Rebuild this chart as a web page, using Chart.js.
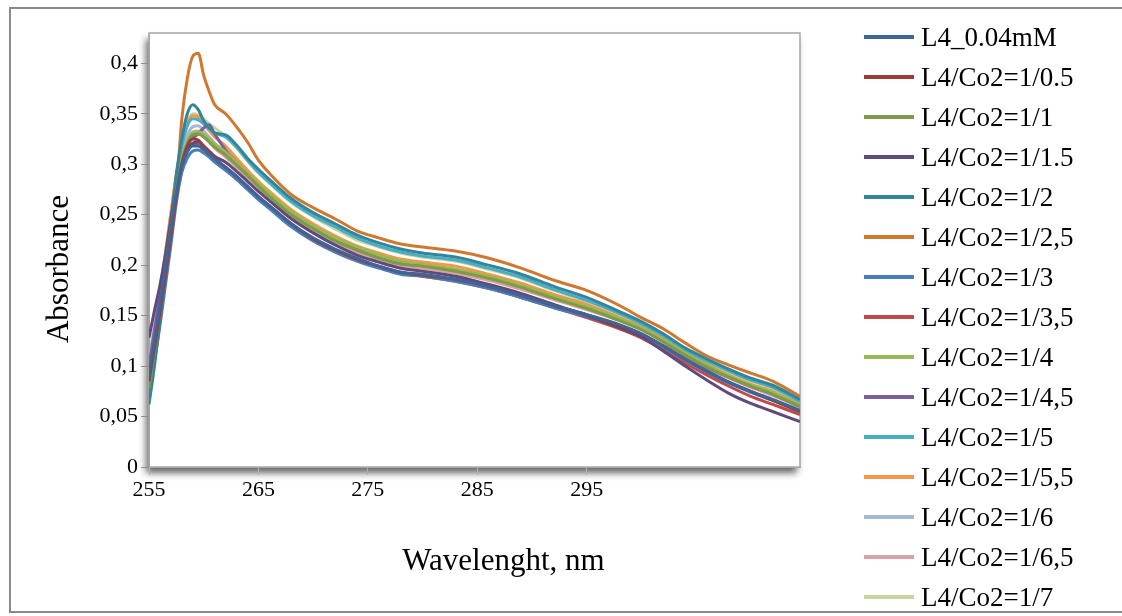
<!DOCTYPE html>
<html><head><meta charset="utf-8">
<script src="https://cdn.jsdelivr.net/npm/chart.js@4.4.1/dist/chart.umd.min.js"></script>
<style>
html,body{margin:0;padding:0;background:#fff;}
#wrap{position:relative;width:1122px;height:616px;overflow:hidden;}
#legend{position:absolute;left:864px;top:17px;font-family:"Liberation Serif","Times New Roman",serif;font-size:27px;color:#000;}
.li{height:40px;display:flex;align-items:center;white-space:nowrap;}
.sw{width:50px;height:4px;margin-right:7px;flex:none;}
</style></head><body>
<div id="wrap"><canvas id="c" width="1122" height="616"></canvas><div id="legend"></div></div>
<script>
const wavelengths = [255,255.5,256,256.5,257,257.5,258,258.5,259,259.5,260,260.5,261,262,263,264,265,266,268,270,272,274,276,278,280,283,286,289,292,295,298,300,302,304,306,308,310,312,314.5];

const seriesNames = ["L4_0.04mM","L4/Co2=1/0.5","L4/Co2=1/1","L4/Co2=1/1.5","L4/Co2=1/2","L4/Co2=1/2,5","L4/Co2=1/3","L4/Co2=1/3,5","L4/Co2=1/4","L4/Co2=1/4,5","L4/Co2=1/5","L4/Co2=1/5,5","L4/Co2=1/6","L4/Co2=1/6,5","L4/Co2=1/7"];
const seriesColors = ["#3F6497","#9E3B38","#7F9A48","#604A7B","#31869B","#D0782E","#4A7EBB","#BE4B48","#98B954","#7D5FA0","#4BACC6","#F79646","#A7B9D9","#D9A3A2","#C4D6A0"];

const sL4 = [0.090,0.125,0.160,0.198,0.236,0.272,0.298,0.312,0.318,0.318,0.315,0.310,0.305, 0.297,0.288,0.278,0.268,0.259, 0.241,0.227,0.216,0.207,0.199,0.193,0.191, 0.186,0.179,0.170,0.160,0.151,0.141, 0.132,0.120,0.107,0.095,0.084,0.075,0.067, 0.056];
const s0_5 = [0.085,0.118,0.152,0.190,0.228,0.268,0.300,0.318,0.325,0.324,0.318,0.312,0.306, 0.297,0.288,0.278,0.268,0.259, 0.241,0.226,0.215,0.206,0.199,0.193,0.190, 0.186,0.179,0.170,0.160,0.151,0.140, 0.132,0.120,0.107,0.095,0.084,0.075,0.066, 0.055];
const s1 = [0.078,0.115,0.155,0.195,0.236,0.275,0.302,0.320,0.329,0.330,0.327,0.322,0.317, 0.309,0.299,0.289,0.278,0.268, 0.250,0.236,0.224,0.215,0.207,0.201,0.199, 0.194,0.187,0.178,0.167,0.157,0.145, 0.136,0.124,0.111,0.099,0.089,0.080,0.072, 0.060];
const s1_5 = [0.128,0.155,0.180,0.210,0.245,0.276,0.298,0.314,0.321,0.322,0.318,0.313,0.308, 0.302,0.293,0.283,0.273,0.264, 0.246,0.232,0.220,0.210,0.203,0.197,0.194, 0.189,0.181,0.172,0.161,0.150,0.138, 0.129,0.115,0.100,0.086,0.073,0.063,0.055, 0.045];
const s2 = [0.062,0.100,0.145,0.190,0.240,0.290,0.325,0.350,0.359,0.354,0.343,0.336,0.331, 0.329,0.319,0.306,0.295,0.285, 0.266,0.252,0.241,0.230,0.222,0.216,0.212, 0.208,0.200,0.191,0.179,0.168,0.154, 0.144,0.132,0.118,0.107,0.097,0.088,0.081, 0.067];
const s2_5 = [0.080,0.110,0.150,0.190,0.235,0.275,0.345,0.385,0.407,0.410,0.388,0.372,0.359, 0.350,0.337,0.322,0.304,0.291, 0.270,0.257,0.246,0.234,0.227,0.221,0.218, 0.214,0.207,0.197,0.185,0.175,0.160, 0.148,0.137,0.123,0.110,0.101,0.093,0.085, 0.070];
const s3 = [0.075,0.105,0.140,0.180,0.220,0.262,0.292,0.306,0.313,0.314,0.311,0.307,0.302, 0.294,0.285,0.275,0.265,0.256, 0.238,0.224,0.213,0.204,0.197,0.191,0.189, 0.184,0.177,0.168,0.158,0.149,0.139, 0.131,0.119,0.106,0.094,0.083,0.074,0.066, 0.055];
const s3_5 = [0.085,0.115,0.150,0.188,0.228,0.268,0.298,0.314,0.320,0.319,0.314,0.309,0.303, 0.295,0.286,0.276,0.266,0.257, 0.239,0.225,0.214,0.205,0.198,0.192,0.189, 0.184,0.177,0.168,0.158,0.148,0.137, 0.128,0.116,0.103,0.091,0.080,0.070,0.062, 0.052];
const s4 = [0.068,0.105,0.148,0.192,0.236,0.277,0.305,0.323,0.331,0.332,0.330,0.325,0.320, 0.312,0.302,0.291,0.281,0.271, 0.253,0.239,0.227,0.218,0.210,0.204,0.201, 0.196,0.189,0.180,0.169,0.159,0.147, 0.138,0.126,0.113,0.101,0.090,0.081,0.074, 0.061];
const s4_5 = [0.100,0.135,0.170,0.207,0.245,0.282,0.306,0.320,0.326,0.330,0.336,0.339,0.330, 0.314,0.302,0.290,0.279,0.270, 0.252,0.237,0.226,0.217,0.209,0.203,0.200, 0.195,0.188,0.179,0.168,0.158,0.146, 0.137,0.125,0.111,0.099,0.089,0.080,0.072, 0.060];
const s5 = [0.080,0.115,0.155,0.198,0.242,0.285,0.318,0.338,0.345,0.344,0.340,0.335,0.331, 0.327,0.317,0.304,0.292,0.282, 0.263,0.249,0.238,0.227,0.219,0.213,0.209, 0.205,0.197,0.188,0.176,0.165,0.152, 0.142,0.130,0.116,0.105,0.095,0.086,0.079, 0.065];
const s5_5 = [0.100,0.135,0.172,0.212,0.252,0.290,0.320,0.340,0.348,0.347,0.340,0.333,0.327, 0.318,0.306,0.294,0.283,0.273, 0.255,0.241,0.229,0.219,0.212,0.206,0.203, 0.199,0.191,0.182,0.171,0.161,0.148, 0.139,0.127,0.114,0.102,0.091,0.082,0.075, 0.062];
const s6 = [0.108,0.140,0.175,0.212,0.250,0.287,0.312,0.329,0.337,0.338,0.333,0.327,0.321, 0.311,0.301,0.290,0.279,0.270, 0.252,0.237,0.226,0.216,0.209,0.203,0.200, 0.196,0.188,0.179,0.168,0.158,0.146, 0.137,0.125,0.112,0.100,0.090,0.081,0.073, 0.061];
const s6_5 = [0.092,0.128,0.165,0.203,0.242,0.280,0.305,0.322,0.332,0.333,0.328,0.322,0.316, 0.307,0.297,0.286,0.276,0.266, 0.248,0.233,0.222,0.213,0.205,0.199,0.197, 0.192,0.185,0.176,0.166,0.156,0.145, 0.136,0.124,0.110,0.098,0.088,0.079,0.071, 0.059];
const s7 = [0.085,0.122,0.162,0.205,0.248,0.290,0.322,0.342,0.350,0.349,0.345,0.340,0.336, 0.328,0.316,0.303,0.291,0.281, 0.262,0.248,0.236,0.225,0.218,0.212,0.208, 0.204,0.196,0.187,0.175,0.164,0.151, 0.141,0.129,0.116,0.104,0.094,0.085,0.078, 0.064];

const seriesValues = [sL4, s0_5, s1, s1_5, s2, s2_5, s3, s3_5, s4, s4_5, s5, s5_5, s6, s6_5, s7];

const yTicks = [0, 0.05, 0.1, 0.15, 0.2, 0.25, 0.3, 0.35, 0.4];
const xTicks = [255, 265, 275, 285, 295];
const xTitle = "Wavelenght, nm";
const yTitle = "Absorbance";

const datasets = seriesNames.map((name, k) => ({
  label: name,
  data: wavelengths.map((w, i) => ({x: w, y: seriesValues[k][i]})),
  borderColor: seriesColors[k],
  backgroundColor: seriesColors[k],
  borderWidth: 3,
  pointRadius: 0,
  cubicInterpolationMode: 'monotone',
  fill: false
}));

const frame = {
  id: 'frame',
  beforeDraw(chart) {
    const {ctx, chartArea: a} = chart;
    ctx.save();
    ctx.strokeStyle = '#8a8a8a';
    ctx.lineWidth = 2;
    ctx.strokeRect(10, 8, 1300, 604);
    ctx.shadowColor = 'rgba(0,0,0,0.6)';
    ctx.shadowBlur = 7;
    ctx.shadowOffsetX = -3;
    ctx.shadowOffsetY = 6;
    ctx.fillStyle = '#fff';
    ctx.fillRect(a.left, a.top, a.width, a.height);
    ctx.restore();
    ctx.save();
    ctx.strokeStyle = '#a6a6a6';
    ctx.lineWidth = 1.5;
    ctx.strokeRect(a.left, a.top, a.width, a.height);
    ctx.restore();
  },
  afterDraw(chart) {
    const {ctx, chartArea: a} = chart;
    ctx.save();
    ctx.fillStyle = '#000';
    ctx.font = '31px "Liberation Serif", "Times New Roman", serif';
    ctx.textAlign = 'center';
    ctx.textBaseline = 'middle';
    ctx.fillText(xTitle, a.left + a.width / 2 + 29, 562);
    ctx.translate(60, a.top + a.height / 2 + 19);
    ctx.rotate(-Math.PI / 2);
    ctx.fillText(yTitle, 0, 0);
    ctx.restore();
  }
};

const htmlLegend = {
  id: 'htmlLegend',
  afterUpdate(chart) {
    const box = document.getElementById('legend');
    box.innerHTML = '';
    const items = Chart.defaults.plugins.legend.labels.generateLabels(chart);
    items.forEach(it => {
      const row = document.createElement('div');
      row.className = 'li';
      const sw = document.createElement('span');
      sw.className = 'sw';
      sw.style.background = it.strokeStyle;
      const tx = document.createElement('span');
      tx.textContent = it.text;
      row.appendChild(sw);
      row.appendChild(tx);
      box.appendChild(row);
    });
  }
};

const tickFont = {family: '"Liberation Serif", "Times New Roman", serif', size: 22};

new Chart(document.getElementById('c'), {
  type: 'line',
  data: {datasets},
  plugins: [frame, htmlLegend],
  options: {
    responsive: false,
    animation: false,
    devicePixelRatio: 1,
    layout: {padding: {left: 0, top: 33, right: 322, bottom: 0}},
    plugins: {legend: {display: false}, tooltip: {enabled: false}},
    scales: {
      x: {
        type: 'linear',
        min: 255,
        max: 314.5,
        afterBuildTicks: s => { s.ticks = xTicks.map(v => ({value: v})); },
        afterFit: s => { s.height = 616 - 467; },
        ticks: {color: '#000', font: tickFont, padding: 2, maxRotation: 0, autoSkip: false},
        grid: {drawOnChartArea: false, drawTicks: true, tickLength: 8, color: '#b0b0b0'},
        border: {display: true, color: '#a6a6a6'}
      },
      y: {
        min: 0,
        max: 0.43,
        afterBuildTicks: s => { s.ticks = yTicks.map(v => ({value: v})); },
        afterFit: s => { s.width = 149; },
        ticks: {color: '#000', font: tickFont, padding: 3, callback: v => String(v).replace('.', ',')},
        grid: {drawOnChartArea: false, drawTicks: true, tickLength: 8, color: '#909090'},
        border: {display: true, color: '#a6a6a6'}
      }
    }
  }
});
</script>
</body></html>
